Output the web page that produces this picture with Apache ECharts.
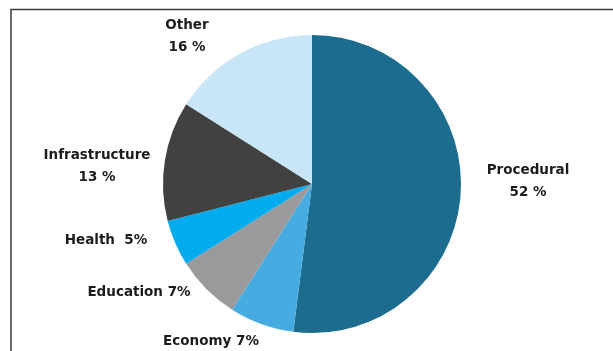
<!DOCTYPE html>
<html>
<head>
<meta charset="utf-8">
<script src="https://cdn.jsdelivr.net/npm/echarts@6/dist/echarts.min.js"></script>
<style>html,body{margin:0;padding:0;background:#fff}#c{width:613px;height:351px}</style>
</head>
<body>
<div id="c"></div>
<script>
const categories = ['Procedural', 'Economy', 'Education', 'Health', 'Infrastructure', 'Other'];
const values = [52, 7, 7, 5, 13, 16];
const labelTexts = ['Procedural\n52 %', 'Economy 7%', 'Education 7%', 'Health  5%', 'Infrastructure\n13 %', 'Other\n16 %'];
const colors = ['#1b6c8f', '#45abe0', '#9a9a9c', '#00aced', '#414141', '#c8e6f7'];
// label anchor positions (layout only)
const labelPos = [[528, 181], [211, 341], [139, 292], [106, 240], [97, 166], [187, 36]];

const chart = echarts.init(document.getElementById('c'), null, {renderer: 'canvas'});
chart.setOption({
  animation: false,
  graphic: [
    {type: 'polyline', shape: {points: [[11, 351], [11, 9.5], [613, 9.5]]}, style: {stroke: '#3a3a3a', lineWidth: 1.5, fill: null}, z: 10}
  ],
  series: [{
    type: 'pie',
    center: [312, 184],
    radius: 149,
    startAngle: 90,
    clockwise: true,
    label: {
      show: true,
      position: 'outside',
      overflow: 'none',
      formatter: p => labelTexts[p.dataIndex],
      fontFamily: 'DejaVu Sans',
      fontWeight: 'bold',
      fontSize: 13.5,
      lineHeight: 22,
      color: '#1c1c1c',
      align: 'center'
    },
    labelLine: {show: false},
    labelLayout: p => ({x: labelPos[p.dataIndex][0], y: labelPos[p.dataIndex][1], align: 'center', verticalAlign: 'middle'}),
    itemStyle: {borderWidth: 0},
    emphasis: {disabled: true},
    data: categories.map((c, i) => ({name: c, value: values[i], itemStyle: {color: colors[i]}}))
  }]
});
</script>
</body>
</html>
